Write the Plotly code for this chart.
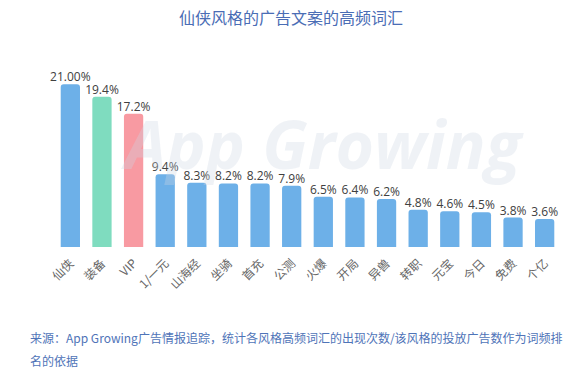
import plotly.graph_objects as go

categories = ["仙侠", "装备", "VIP", "1/一元", "山海经", "坐骑", "首充", "公测", "火爆", "开局", "异兽", "转职", "元宝", "今日", "免费", "个亿"]
values = [21.00, 19.4, 17.2, 9.4, 8.3, 8.2, 8.2, 7.9, 6.5, 6.4, 6.2, 4.8, 4.6, 4.5, 3.8, 3.6]
value_labels = ["21.00%", "19.4%", "17.2%", "9.4%", "8.3%", "8.2%", "8.2%", "7.9%", "6.5%", "6.4%", "6.2%", "4.8%", "4.6%", "4.5%", "3.8%", "3.6%"]

blue, green, pink = "#6db0e8", "#7fdcbf", "#f89aa2"
colors = [blue, green, pink] + [blue] * (len(categories) - 3)

font_family = "Noto Sans CJK SC, Noto Sans, sans-serif"

fig = go.Figure()
fig.add_trace(go.Bar(
    x=categories, y=values, marker=dict(color=colors, line=dict(width=0)),
    hoverinfo="x+y",
))
fig.add_trace(go.Scatter(
    x=categories, y=values, mode="text", text=value_labels, textposition="top center",
    textfont=dict(size=12, color="#404040", family="Open Sans, Noto Sans, sans-serif"), cliponaxis=False,
    hoverinfo="skip",
))

fig.update_layout(
    width=582, height=373,
    margin=dict(l=44, r=11, t=61, b=126),
    paper_bgcolor="white", plot_bgcolor="white",
    bargap=0.39, barcornerradius=3,
    showlegend=False,
    font=dict(family=font_family),
    title=dict(text="仙侠风格的广告文案的高频词汇", x=0.5, xanchor="center", y=0.952, yanchor="middle",
               font=dict(size=16, color="#4a6db5", family=font_family)),
    xaxis=dict(tickangle=-45, tickfont=dict(size=12, color="#666666"), showline=False,
               showgrid=False, ticks="", ticklabelstandoff=6, automargin=False),
    yaxis=dict(range=[0, 24], visible=False, showgrid=False, automargin=False),
)

fig.add_annotation(text="<b><i>App Growing</i></b>", xref="paper", yref="paper", x=0.53, y=0.81,
                   showarrow=False, font=dict(size=66, color="rgba(205,214,228,0.32)", family="Open Sans"))
fig.add_annotation(text="来源：App Growing广告情报追踪，统计各风格高频词汇的出现次数/该风格的投放广告数作为词频排",
                   xref="paper", yref="paper", x=-16 / 527, y=(247 - 337) / 186,
                   xanchor="left", yanchor="middle", align="left",
                   showarrow=False, font=dict(size=12, color="#4f74b8", family=font_family))
fig.add_annotation(text="名的依据",
                   xref="paper", yref="paper", x=-16 / 527, y=(247 - 360) / 186,
                   xanchor="left", yanchor="middle", align="left",
                   showarrow=False, font=dict(size=12, color="#4f74b8", family=font_family))

fig.write_html("out.html", config={"displayModeBar": False})
with open("out.html", "r", encoding="utf-8") as f:
    html = f.read()
html = html.replace("<body>", "<body style=\"margin:0;padding:0;\">", 1)
with open("out.html", "w", encoding="utf-8") as f:
    f.write(html)
